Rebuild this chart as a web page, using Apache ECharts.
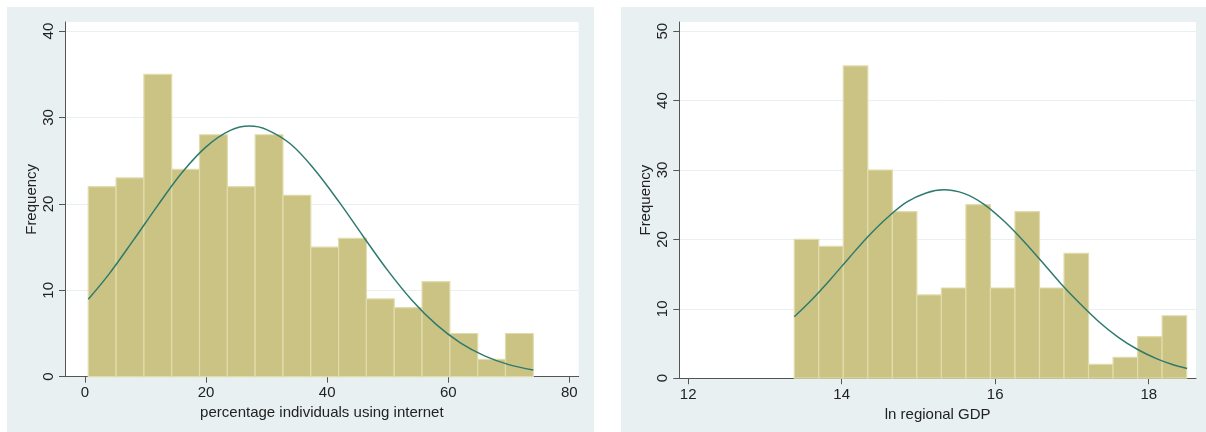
<!DOCTYPE html>
<html>
<head>
<meta charset="utf-8">
<script src="https://cdn.jsdelivr.net/npm/echarts@6/dist/echarts.min.js"></script>
<style>
  html, body { margin: 0; padding: 0; background: #ffffff; }
  #chart { width: 1206px; height: 432px; }
</style>
</head>
<body>
<div id="chart"></div>
<script>
// Histogram of internet use (percentage of individuals), 16 bins
const internetBinStart = 0.545;
const internetBinWidth = 4.594;
const internetCounts = [22, 23, 35, 24, 28, 22, 28, 21, 15, 16, 9, 8, 11, 5, 2, 5];

// Fitted normal density over the internet histogram, [x, frequency]
const internetCurve = [
  [0.545, 8.96], [4, 11.9], [8, 15.8], [12, 19.8], [16, 23.6], [20, 26.6],
  [24, 28.5], [27.2, 29.0], [30, 28.6], [34, 26.9], [38, 23.9], [42, 20.2],
  [46, 16.2], [50, 12.3], [54, 8.85], [58, 6.05], [62, 3.92], [66, 2.41],
  [70, 1.40], [74.05, 0.77]
];

// Histogram of ln regional GDP, 16 bins
const gdpBinStart = 13.382;
const gdpBinWidth = 0.3195;
const gdpCounts = [20, 19, 45, 30, 24, 12, 13, 25, 13, 24, 13, 18, 2, 3, 6, 9];

// Fitted normal density over the GDP histogram, [x, frequency]
const gdpCurve = [
  [13.382, 8.86], [13.6, 11.2], [13.85, 14.2], [14.1, 17.4], [14.35, 20.5],
  [14.6, 23.2], [14.85, 25.4], [15.1, 26.7], [15.33, 27.15], [15.6, 26.6],
  [15.85, 25.1], [16.1, 22.8], [16.35, 20.0], [16.6, 16.9], [16.85, 13.7],
  [17.1, 10.8], [17.35, 8.14], [17.6, 5.93], [17.85, 4.17], [18.1, 2.82],
  [18.3, 2.01], [18.5, 1.40]
];

// Tick labels
const internetTicks = [0, 20, 40, 60, 80];
const gdpTicks = [12, 14, 16, 18];
const internetFreqTicks = [0, 10, 20, 30, 40];
const gdpFreqTicks = [0, 10, 20, 30, 40, 50];

const FONT = "'Liberation Sans', Arial, sans-serif";
const TEXT = '#222222';
const AXIS = '#555555';
const GRIDLINE = '#e9f0f2';
const PANEL = '#e8f0f2';
const BAR_FILL = '#cbc383';
const BAR_EDGE = '#e1dcac';
const CURVE = '#2f7a6e';

function toBins(start, width, counts) {
  return counts.map((c, i) => [start + i * width, start + (i + 1) * width, c]);
}

function renderBin(params, api) {
  const top = api.coord([api.value(0), api.value(2)]);
  const bottom = api.coord([api.value(1), 0]);
  return {
    type: 'rect',
    shape: { x: top[0], y: top[1], width: bottom[0] - top[0], height: bottom[1] - top[1] },
    style: { fill: BAR_FILL, stroke: BAR_EDGE, lineWidth: 1.2 }
  };
}

function xAxisFor(gridIndex, min, max, ticks, name) {
  return {
    type: 'value', gridIndex, min, max,
    name, nameLocation: 'middle', nameGap: 25,
    nameTextStyle: { color: TEXT, fontFamily: FONT, fontSize: 15 },
    axisLine: { show: true, onZero: false, lineStyle: { color: AXIS, width: 1 } },
    axisTick: { show: true, customValues: ticks, length: 6, lineStyle: { color: AXIS } },
    axisLabel: { customValues: ticks, color: TEXT, fontFamily: FONT, fontSize: 15, margin: 9 },
    splitLine: { show: false }
  };
}

function yAxisFor(gridIndex, max, ticks) {
  return {
    type: 'value', gridIndex, min: 0, max, interval: 10,
    name: 'Frequency', nameLocation: 'middle', nameGap: 26,
    nameTextStyle: { color: TEXT, fontFamily: FONT, fontSize: 15 },
    axisLine: { show: true, onZero: false, lineStyle: { color: AXIS, width: 1 } },
    axisTick: { show: true, customValues: ticks, length: 6, lineStyle: { color: AXIS } },
    axisLabel: { customValues: ticks, rotate: 90, color: TEXT, fontFamily: FONT, fontSize: 15, margin: 9 },
    splitLine: { show: true, lineStyle: { color: GRIDLINE, width: 1 } }
  };
}

const chart = echarts.init(document.getElementById('chart'), null, { renderer: 'canvas' });

chart.setOption({
  backgroundColor: '#ffffff',
  animation: false,
  graphic: [
    { type: 'rect', z: -100, shape: { x: 7, y: 7, width: 587, height: 425 }, style: { fill: PANEL } },
    { type: 'rect', z: -100, shape: { x: 621, y: 7, width: 585, height: 425 }, style: { fill: PANEL } }
  ],
  grid: [
    { left: 65, top: 22, width: 513.7, height: 354.7, show: true, backgroundColor: '#ffffff', borderWidth: 0 },
    { left: 679.3, top: 22, width: 516.7, height: 356.2, show: true, backgroundColor: '#ffffff', borderWidth: 0 }
  ],
  xAxis: [
    xAxisFor(0, -3.3, 81.55, internetTicks, 'percentage individuals using internet'),
    xAxisFor(1, 11.884, 18.616, gdpTicks, 'ln regional GDP')
  ],
  yAxis: [
    yAxisFor(0, 41.05, internetFreqTicks),
    yAxisFor(1, 51.33, gdpFreqTicks)
  ],
  series: [
    {
      type: 'custom', xAxisIndex: 0, yAxisIndex: 0,
      renderItem: renderBin,
      encode: { x: [0, 1], y: 2 },
      data: toBins(internetBinStart, internetBinWidth, internetCounts)
    },
    {
      type: 'line', xAxisIndex: 0, yAxisIndex: 0,
      data: internetCurve, smooth: 0.35, showSymbol: false,
      lineStyle: { color: CURVE, width: 1.5 }, z: 5
    },
    {
      type: 'custom', xAxisIndex: 1, yAxisIndex: 1,
      renderItem: renderBin,
      encode: { x: [0, 1], y: 2 },
      data: toBins(gdpBinStart, gdpBinWidth, gdpCounts)
    },
    {
      type: 'line', xAxisIndex: 1, yAxisIndex: 1,
      data: gdpCurve, smooth: 0.35, showSymbol: false,
      lineStyle: { color: CURVE, width: 1.5 }, z: 5
    }
  ]
});
</script>
</body>
</html>
